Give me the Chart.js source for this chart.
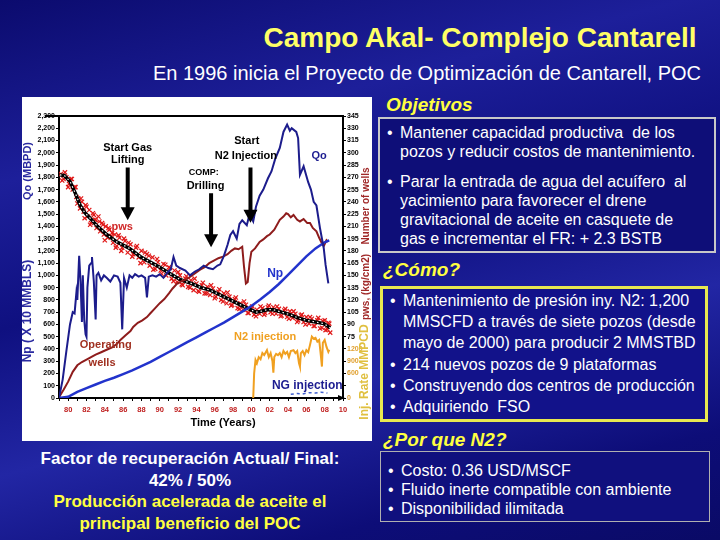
<!DOCTYPE html>
<html>
<head>
<meta charset="utf-8">
<script src="https://cdn.jsdelivr.net/npm/chart.js"></script>
<style>
  html, body { margin: 0; padding: 0; }
  body { width: 720px; height: 540px; overflow: hidden; font-family: "Liberation Sans", Arial, sans-serif; }
  #slide { position: relative; width: 720px; height: 540px;
    background: linear-gradient(165deg, #0b0b6e 0%, #1d1f9a 25%, #0f1080 45%, #2226a4 65%, #0d0d78 85%, #0a0a66 100%); }
  .title { position: absolute; left: 180px; width: 600px; top: 21px; text-align: center; color: #ffff66; font-size: 28px; font-weight: bold; line-height: 34px; }
  .sub { position: absolute; left: 127px; width: 600px; top: 62px; text-align: center; color: #fff; font-size: 20px; line-height: 22px; }
  #panel { position: absolute; left: 22px; top: 97px; width: 350px; height: 344px; background: #fff; }
  .head { position: absolute; color: #ffff40; font-size: 19px; font-weight: bold; font-style: italic; line-height: 22px; }
  .box { position: absolute; box-sizing: border-box; color: #fff; font-size: 16px; }
  .box .it { position: relative; padding-left: 20px; }
  .box .it::before { content: "\2022"; position: absolute; left: 7px; }
  #b1 { left: 378px; top: 117px; width: 338px; height: 136px; border: 2px solid #c8c8c8; background: #0e0e78; padding-top: 4px; line-height: 19.3px; }
  #b1 .it + .it { margin-top: 10px; }
  #b2 { left: 380px; top: 286px; width: 328px; height: 136px; border: 3px solid #e8e850; background: #12128a; padding-top: 1px; line-height: 21.2px; }
  #b3 { left: 380px; top: 451px; width: 330px; height: 71px; border: 1px solid #b0b0b0; background: #10107e; padding-top: 9px; line-height: 19px; }
  .bl { position: absolute; left: 0px; width: 380px; top: 448px; text-align: center; font-size: 17px; font-weight: bold; line-height: 21.7px; color: #fff; }
  .bl .y { color: #ffff40; }
</style>
</head>
<body>
<div id="slide">
  <div class="title">Campo Akal- Complejo Cantarell</div>
  <div class="sub">En 1996 inicia el Proyecto de Optimización de Cantarell, POC</div>
  <div id="panel"><canvas id="chart" width="350" height="344"></canvas></div>

  <div class="head" style="left:386px; top:94px;">Objetivos</div>
  <div class="box" id="b1">
    <div class="it">Mantener capacidad productiva&nbsp; de los<br>pozos y reducir costos de mantenimiento.</div>
    <div class="it">Parar la entrada de agua del acuífero&nbsp; al<br>yacimiento para favorecer el drene<br>gravitacional de aceite en casquete de<br>gas e incrementar el FR: + 2.3 BSTB</div>
  </div>

  <div class="head" style="left:383px; top:259px;">¿Cómo?</div>
  <div class="box" id="b2">
    <div class="it">Mantenimiento de presión iny. N2: 1,200<br>MMSCFD a través de siete pozos (desde<br>mayo de 2000) para producir 2 MMSTBD</div>
    <div class="it">214 nuevos pozos de 9 plataformas</div>
    <div class="it">Construyendo dos centros de producción</div>
    <div class="it">Adquiriendo&nbsp; FSO</div>
  </div>

  <div class="head" style="left:383px; top:429px;">¿Por que N2?</div>
  <div class="box" id="b3">
    <div class="it">Costo: 0.36 USD/MSCF</div>
    <div class="it">Fluido inerte compatible con ambiente</div>
    <div class="it">Disponibilidad ilimitada</div>
  </div>

  <div class="bl">Factor de recuperación Actual/ Final:<br>42% / 50%<br><span class="y">Producción acelerada de aceite el<br>principal beneficio del POC</span></div>
</div>

<script>
// axis ranges
var xMin = 1979, xMax = 2010;
var leftMax = 2300, rightMax = 345, injMax = 6900;

// Qo (MBPD)
var qoYears = [1979.0,1979.4,1979.8,1980.2,1980.5,1980.7,1980.9,1981.0,1981.2,1981.35,1981.5,1981.6,1981.75,1981.9,1982.0,1982.1,1982.3,1982.5,1982.6,1982.8,1983.0,1983.1,1983.3,1983.6,1983.9,1984.2,1984.6,1985.0,1985.4,1985.7,1985.9,1986.1,1986.4,1986.7,1987.0,1987.3,1987.7,1988.0,1988.4,1988.6,1988.8,1989.2,1989.6,1990.0,1990.4,1990.8,1991.2,1991.5,1991.8,1992.2,1992.8,1993.3,1993.8,1994.3,1994.8,1995.3,1995.8,1996.3,1996.6,1997.0,1997.4,1997.7,1998.0,1998.4,1998.7,1999.0,1999.5,1999.8,2000.2,2000.5,2000.9,2001.3,2001.8,2002.2,2002.6,2003.1,2003.5,2003.9,2004.2,2004.4,2004.9,2005.1,2005.3,2005.7,2006.2,2006.5,2006.8,2007.1,2007.5,2007.9,2008.1,2008.4];
var qoValues = [0,150,380,600,700,690,860,800,1160,950,620,1000,640,520,500,900,1080,1100,1150,950,640,1000,1020,960,1000,980,950,1000,990,940,560,980,900,1000,980,1010,990,1000,980,820,990,1000,990,1010,980,1020,1050,1150,1080,1060,1040,1000,1030,1050,1080,1060,1050,1080,1090,1160,1250,1330,1360,1300,1420,1450,1410,1500,1440,1560,1650,1700,1790,1850,1950,2040,2170,2230,2180,2200,2170,2120,1820,1890,1760,1700,1600,1570,1380,1220,1085,935];

// operating wells
var wellYears = [1979.0,1979.5,1980.0,1980.5,1981.0,1981.5,1982.0,1982.5,1983.0,1983.6,1984.2,1984.8,1985.3,1985.7,1986.3,1986.8,1987.1,1987.6,1988.1,1988.6,1989.0,1989.5,1990.0,1990.5,1991.0,1991.4,1991.9,1992.4,1992.9,1993.4,1993.9,1994.4,1994.9,1995.4,1995.9,1996.4,1996.9,1997.4,1997.8,1998.2,1998.6,1999.0,1999.2,1999.4,1999.6,1999.8,2000.0,2000.4,2000.9,2001.3,2001.7,2002.0,2002.5,2003.1,2003.5,2003.8,2004.0,2004.3,2004.6,2005.0,2005.3,2005.7,2006.1,2006.4,2006.7,2007.1,2007.4,2007.7,2007.9,2008.2,2008.4];
var wellCounts = [1,10,20,32,40,44,47,50,53,56,59,62,66,71,77,82,87,92,95,99,104,110,116,121,128,134,140,143,145,149,153,157,160,165,168,171,173,176,180,183,182,185,160,140,142,165,179,183,191,194,198,200,206,218,222,226,225,221,224,218,216,219,214,214,208,204,196,189,186,193,191];

// pws (kg/cm2): trend and measurements
var pwsTrendYears = [1979.1,1979.6,1980.2,1980.8,1981.3,1981.8,1982.4,1983.2,1984.2,1985.3,1986.7,1988.0,1989.0,1990.0,1991.0,1992.2,1993.5,1994.5,1995.5,1996.6,1997.7,1998.8,1999.9,2000.5,2001.0,2001.7,2002.4,2003.3,2004.2,2005.1,2006.0,2007.0,2007.9,2008.6];
var pwsTrendValues = [273,272,265,250,236,227,220,210,200,191,183,172,166,160,153,145,140,135,132,126,120,114,108,105,106,108,108,105,102,98,95,93,91,86];
var pwsObsYears = [1979.2,1979.5,1979.8,1980.1,1980.3,1980.5,1980.7,1980.9,1981.1,1981.3,1981.5,1981.7,1981.9,1982.1,1982.3,1982.5,1982.7,1982.9,1983.1,1983.3,1983.5,1983.7,1983.9,1984.1,1984.3,1984.5,1984.7,1984.9,1985.1,1985.3,1985.6,1985.9,1986.2,1986.5,1986.8,1987.1,1987.4,1987.7,1988.0,1988.3,1988.6,1988.9,1989.2,1989.5,1989.8,1990.1,1990.4,1990.7,1991.0,1991.3,1991.6,1991.9,1992.2,1992.5,1992.8,1993.1,1993.4,1993.7,1994.0,1994.3,1994.6,1994.9,1995.2,1995.5,1995.8,1996.1,1996.4,1996.7,1997.0,1997.3,1997.6,1997.9,1998.2,1998.5,1998.8,1999.1,1999.4,1999.7,2000.0,2000.3,2000.6,2000.9,2001.2,2001.5,2001.8,2002.1,2002.4,2002.7,2003.0,2003.3,2003.6,2003.9,2004.2,2004.5,2004.8,2005.1,2005.4,2005.7,2006.0,2006.3,2006.6,2006.9,2007.2,2007.5,2007.8,2008.1,2008.4,2008.6];
var pwsObsValues = [274,268,270,262,268,255,258,246,244,232,240,228,236,222,230,214,226,218,208,222,204,214,200,210,196,206,198,190,200,186,196,184,192,178,188,176,184,172,180,166,176,162,172,158,166,156,164,150,160,146,156,142,150,138,146,136,144,132,140,130,138,128,136,126,134,124,130,120,128,116,124,114,121,110,116,108,114,104,110,102,108,103,110,104,111,105,111,103,109,101,107,99,106,98,103,95,101,93,99,91,97,88,95,85,94,83,92,80];
var pwsObs2Years = [1979.35,1979.65,1980.0,1980.4,1980.8,1981.0,1981.4,1981.8,1982.0,1982.4,1982.8,1983.0,1983.4,1983.8,1984.0,1984.4,1984.8,1985.2,1985.5,1985.8,1986.1,1986.6,1987.0,1987.5,1987.9,1988.4,1988.8,1989.3,1989.7,1990.2,1990.6,1991.1,1991.5,1992.0,1992.4,1992.9,1993.3,1993.8,1994.2,1994.7,1995.1,1995.6,1996.0,1996.5,1996.9,1997.4,1997.8,1998.3,1998.7,1999.2,1999.6,2000.1,2000.5,2001.0,2001.4,2001.9,2002.3,2002.8,2003.2,2003.7,2004.1,2004.6,2005.0,2005.5,2005.9,2006.4,2006.8,2007.3,2007.7,2008.0,2008.3,2008.5];
var pwsObs2Values = [266,276,258,268,258,238,244,220,234,212,224,218,216,212,193,208,202,184,199,180,195,190,173,186,165,178,174,157,170,152,163,159,143,154,139,149,135,146,131,141,128,138,122,133,118,129,113,123,109,118,104,112,100,112,102,113,103,112,100,109,97,106,93,102,90,99,88,98,86,95,84,91];

// Np (x10 MMBLS)
var npYears = [1979,1980,1981,1982,1983,1984,1985,1986,1987,1988,1989,1990,1991,1992,1993,1994,1995,1996,1997,1998,1999,2000,2001,2002,2003,2004,2005,2006,2007,2008,2008.5];
var npValues = [0,10,50,80,110,140,165,195,225,260,295,335,375,415,455,495,535,575,615,660,705,750,805,865,930,1005,1080,1155,1220,1270,1285];

// injection rates (MMPCD)
var n2Years = [2000.1,2000.2,2000.3,2000.45,2000.6,2000.8,2001.0,2001.2,2001.4,2001.7,2001.9,2002.1,2002.3,2002.4,2002.5,2002.7,2002.9,2003.1,2003.3,2003.5,2003.7,2003.9,2004.1,2004.3,2004.6,2004.8,2005.0,2005.2,2005.3,2005.4,2005.6,2005.8,2006.0,2006.2,2006.4,2006.6,2006.8,2007.0,2007.2,2007.4,2007.6,2007.7,2007.8,2008.0,2008.2,2008.4,2008.5];
var n2Rates = [0,0,600,930,850,1000,950,1100,1050,1170,1000,1100,900,620,1000,1080,1050,1100,1000,1150,1080,1130,1000,1150,1170,1100,1150,850,770,1100,1150,1050,1170,1120,1300,1500,1450,1470,1380,1420,1000,770,1350,1420,1250,1130,1180];
var ngYears = [2004.3,2005.0,2005.6,2006.3,2007.0,2007.6,2008.3];
var ngRates = [90,110,100,130,120,140,120];

// events marked with arrows (year, from, to on the left scale)
var events = [
  {year: 1986.5, from: 1880, to: 1450},
  {year: 1995.6, from: 1670, to: 1230},
  {year: 1999.9, from: 1880, to: 1430}
];
// labels inside the plot (year, left-scale value)
var notes = [
  {t: 'Start Gas', x: 1986.5, y: 2039, c: '#000', f: 'bold 11px'},
  {t: 'Lifting', x: 1986.5, y: 1941, c: '#000', f: 'bold 11px'},
  {t: 'COMP:', x: 1994.8, y: 1840, c: '#000', f: 'bold 9px'},
  {t: 'Drilling', x: 1995.0, y: 1729, c: '#000', f: 'bold 11px'},
  {t: 'Start', x: 1999.5, y: 2096, c: '#000', f: 'bold 11px'},
  {t: 'N2 Injection', x: 1999.4, y: 1974, c: '#000', f: 'bold 11px'},
  {t: 'Qo', x: 2007.4, y: 1974, c: '#1c1c90', f: 'bold 11px'},
  {t: 'pws', x: 1985.9, y: 1395, c: '#d02828', f: 'bold 11px'},
  {t: 'Np', x: 2002.6, y: 1011, c: '#2233cc', f: 'bold 12px'},
  {t: 'Operating', x: 1984.1, y: 432, c: '#a03020', f: 'bold 11px'},
  {t: 'wells', x: 1983.7, y: 285, c: '#a03020', f: 'bold 11px'},
  {t: 'N2 injection', x: 2001.5, y: 497, c: '#f0a020', f: 'bold 11px'},
  {t: 'NG injection', x: 2006.1, y: 98, c: '#1c1c90', f: 'bold 12px'}
];

function pts(xs, ys) {
  return xs.map(function(x, i) { return {x: x, y: ys[i]}; });
}

var FONT = '"Liberation Sans", Arial, sans-serif';

var extras = {
  id: 'extras',
  afterDatasetsDraw: function(chart) {
    var ctx = chart.ctx, area = chart.chartArea;
    var sx = chart.scales.x, sy = chart.scales.y;
    ctx.save();
    // top frame line
    ctx.strokeStyle = '#000';
    ctx.lineWidth = 2;
    ctx.beginPath();
    ctx.moveTo(area.left - 14, area.top);
    ctx.lineTo(area.right, area.top);
    ctx.stroke();
    // arrow head at end of time axis
    ctx.fillStyle = '#000';
    ctx.beginPath();
    ctx.moveTo(area.right + 2, area.bottom);
    ctx.lineTo(area.right - 5, area.bottom - 3);
    ctx.lineTo(area.right - 5, area.bottom + 3);
    ctx.closePath();
    ctx.fill();
    // event arrows
    events.forEach(function(a) {
      var px = sx.getPixelForValue(a.year);
      var y0 = sy.getPixelForValue(a.from), y1 = sy.getPixelForValue(a.to);
      ctx.fillRect(px - 2, y0, 4, y1 - y0 - 12);
      ctx.beginPath();
      ctx.moveTo(px - 7, y1 - 13);
      ctx.lineTo(px + 7, y1 - 13);
      ctx.lineTo(px, y1);
      ctx.closePath();
      ctx.fill();
    });
    // notes
    ctx.textAlign = 'center';
    ctx.textBaseline = 'middle';
    notes.forEach(function(n) {
      ctx.font = n.f + ' ' + FONT;
      ctx.fillStyle = n.c;
      ctx.fillText(n.t, sx.getPixelForValue(n.x), sy.getPixelForValue(n.y));
    });
    // axis titles
    ctx.font = 'bold 11px ' + FONT;
    ctx.fillStyle = '#000';
    ctx.fillText('Time (Years)', 201, 326);
    var side = [
      {t: 'Qo (MBPD)', x: 6, y: 74, c: '#2a2aa0', f: 'bold 11px'},
      {t: 'Np ( X 10 MMBLS)', x: 6, y: 214, c: '#2a2aa0', f: 'bold 12px'},
      {t: 'Number of wells', x: 344, y: 109, c: '#a02828', f: 'bold 10px'},
      {t: 'pws, (kg/cm2)', x: 344, y: 190, c: '#a02828', f: 'bold 10px'},
      {t: 'Inj. Rate MMPCD', x: 343, y: 275, c: '#e0c040', f: 'bold 12px'}
    ];
    side.forEach(function(s) {
      ctx.save();
      ctx.translate(s.x, s.y);
      ctx.rotate(-Math.PI / 2);
      ctx.font = s.f + ' ' + FONT;
      ctx.fillStyle = s.c;
      ctx.fillText(s.t, 0, 0);
      ctx.restore();
    });
    ctx.restore();
  }
};

var tickFont = {family: FONT, size: 7, weight: 'bold'};

new Chart(document.getElementById('chart'), {
  type: 'line',
  data: {
    datasets: [
      {label: 'N2 injection', data: pts(n2Years, n2Rates), yAxisID: 'yInj', borderColor: '#f0a020', borderWidth: 2, pointRadius: 0, order: 1},
      {label: 'NG injection', data: pts(ngYears, ngRates), yAxisID: 'yInj', borderColor: '#4060d0', borderWidth: 1.5, borderDash: [3, 3], pointRadius: 0, order: 1},
      {label: 'Qo', data: pts(qoYears, qoValues), yAxisID: 'y', borderColor: '#1c1c8c', borderWidth: 2, pointRadius: 0, order: 2},
      {label: 'Np', data: pts(npYears, npValues), yAxisID: 'y', borderColor: '#2233cc', borderWidth: 2.5, pointRadius: 0, order: 3},
      {label: 'Operating wells', data: pts(wellYears, wellCounts), yAxisID: 'y2', borderColor: '#8e1c1c', borderWidth: 2, pointRadius: 0, order: 4},
      {label: 'pws trend dots', data: pts(pwsTrendYears, pwsTrendValues), yAxisID: 'y2', borderColor: '#ffffff', borderWidth: 1.2, borderDash: [1.5, 3], pointRadius: 0, order: 5},
      {label: 'pws trend', data: pts(pwsTrendYears, pwsTrendValues), yAxisID: 'y2', borderColor: '#000', borderWidth: 3.5, pointRadius: 0, order: 6},
      {label: 'pws', data: pts(pwsObsYears, pwsObsValues).concat(pts(pwsObs2Years, pwsObs2Values)), yAxisID: 'y2', showLine: false, pointStyle: 'crossRot', pointRadius: 3, borderColor: '#e01818', borderWidth: 1.2, order: 7}
    ]
  },
  options: {
    responsive: false,
    animation: false,
    events: [],
    layout: {padding: {top: 19, left: 0, right: 0, bottom: 0}},
    plugins: {legend: {display: false}, tooltip: {enabled: false}},
    scales: {
      x: {
        type: 'linear', min: xMin, max: xMax,
        border: {color: '#000', width: 2},
        grid: {drawOnChartArea: false, tickLength: 3, color: '#000'},
        ticks: {stepSize: 1, autoSkip: false, maxRotation: 0, padding: 4, color: '#c02020', font: {family: FONT, size: 7.5, weight: 'bold'},
          callback: function(v) { return v % 2 === 0 ? String(v % 100).padStart(2, '0') : ''; }},
        afterFit: function(s) { s.height = 43; }
      },
      y: {
        position: 'left', min: 0, max: leftMax,
        border: {color: '#000', width: 2},
        grid: {drawOnChartArea: false, tickLength: 3, color: '#000'},
        ticks: {stepSize: 100, padding: 1, color: '#000', font: tickFont,
          callback: function(v) { return v.toLocaleString('en-US'); }},
        afterFit: function(s) { s.width = 37; }
      },
      y2: {
        position: 'right', min: 0, max: rightMax,
        border: {color: '#000', width: 2},
        grid: {drawOnChartArea: false, tickLength: 3, color: '#000'},
        ticks: {stepSize: 15, padding: 1, font: tickFont,
          color: function(c) { return c.tick && c.tick.value >= 75 ? '#000' : '#e0a030'; },
          callback: function(v) {
            if (v >= 75) return String(v);
            if (v === 15) return '';
            return String(v * injMax / rightMax);
          }},
        afterFit: function(s) { s.width = 29; }
      },
      yInj: {position: 'right', min: 0, max: injMax, display: false}
    }
  },
  plugins: [extras]
});
</script>
</body>
</html>
